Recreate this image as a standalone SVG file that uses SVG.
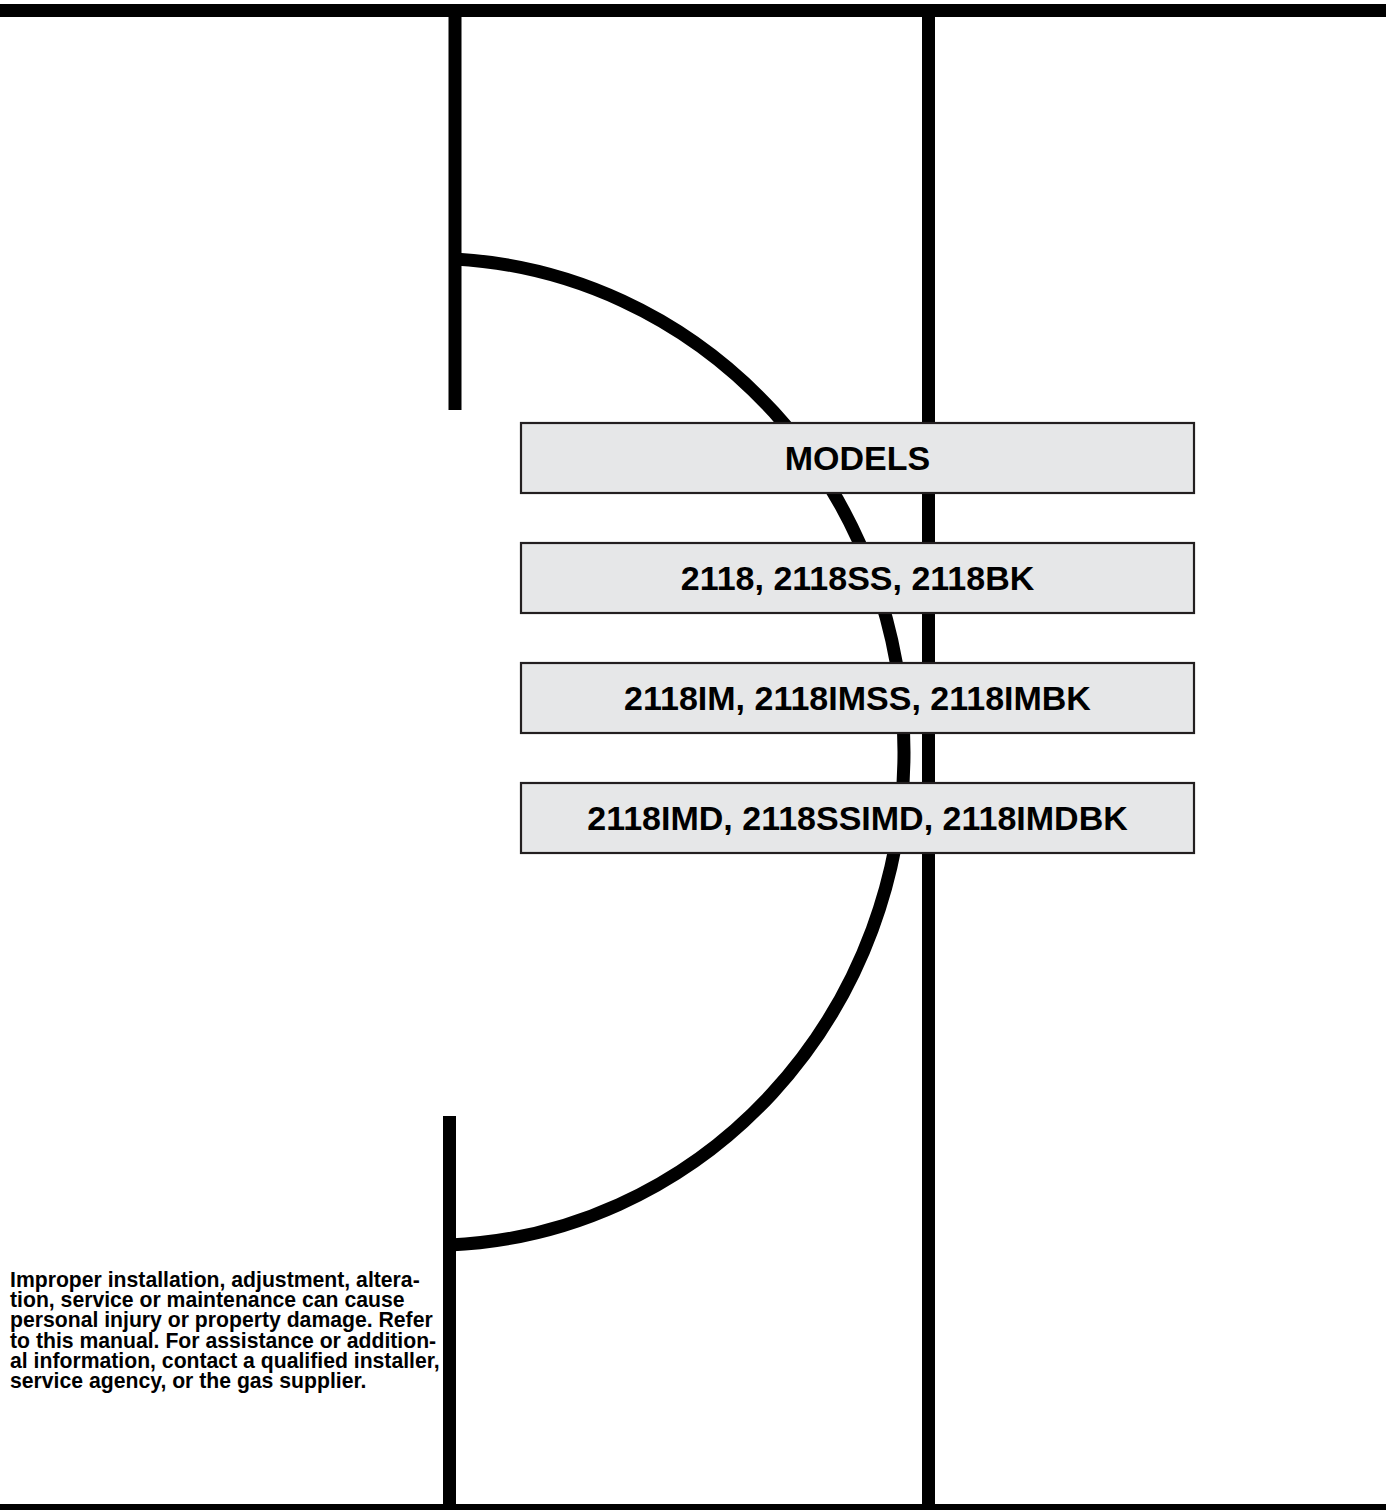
<svg xmlns="http://www.w3.org/2000/svg" width="1386" height="1510" viewBox="0 0 1386 1510">
<style>
.ln{stroke:#000;stroke-width:13;fill:none}
.box{fill:#e6e7e8;stroke:#231f20;stroke-width:2.2}
.lbl{font-family:"Liberation Sans",Arial,sans-serif;font-weight:bold;font-size:34px;fill:#000;text-anchor:middle}
.note{font-family:"Liberation Sans",Arial,sans-serif;font-weight:bold;font-size:21.2px;fill:#000}
</style>
<rect width="1386" height="1510" fill="#fff"/>
<g id="connectors">
<rect x="0" y="4" width="1386" height="13" fill="#000"/>
<rect x="0" y="1504" width="1386" height="14" fill="#000"/>
<line class="ln" x1="455" y1="10" x2="455" y2="410"/>
<line class="ln" x1="449.5" y1="1116" x2="449.5" y2="1510"/>
<line class="ln" x1="928.5" y1="10" x2="928.5" y2="1510"/>
<path class="ln" d="M 455 259 A 474 493.7 0 0 1 904 752 A 474 493.7 0 0 1 450 1245"/>
</g>
<g id="node-models">
<rect class="box" x="521" y="423" width="673" height="70"/>
<text class="lbl" x="857.5" y="470">MODELS</text>
</g>
<g id="node-2118">
<rect class="box" x="521" y="543" width="673" height="70"/>
<text class="lbl" x="857.5" y="590">2118, 2118SS, 2118BK</text>
</g>
<g id="node-2118im">
<rect class="box" x="521" y="663" width="673" height="70"/>
<text class="lbl" x="857.5" y="710">2118IM, 2118IMSS, 2118IMBK</text>
</g>
<g id="node-2118imd">
<rect class="box" x="521" y="783" width="673" height="70"/>
<text class="lbl" x="857.5" y="830">2118IMD, 2118SSIMD, 2118IMDBK</text>
</g>
<g id="warning">
<text class="note" x="10" y="1287">Improper installation, adjustment, altera-</text>
<text class="note" x="10" y="1307.2">tion, service or maintenance can cause</text>
<text class="note" x="10" y="1327.4">personal injury or property damage. Refer</text>
<text class="note" x="10" y="1347.6">to this manual. For assistance or addition-</text>
<text class="note" x="10" y="1367.8">al information, contact a qualified installer,</text>
<text class="note" x="10" y="1388">service agency, or the gas supplier.</text>
</g>
</svg>
